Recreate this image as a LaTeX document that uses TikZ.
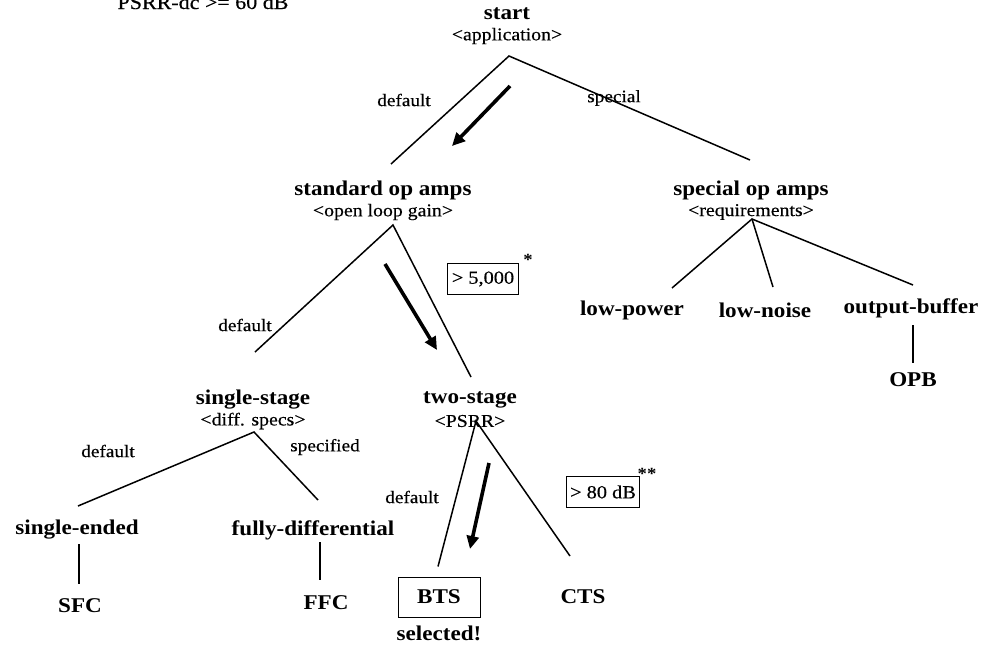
\documentclass[tikz,border=0pt]{standalone}
\usepackage{fontspec}
\setmainfont{Liberation Serif}[FakeStretch=1.1]
\newfontfamily\subfont{Liberation Serif}[FakeStretch=1.1, FakeBold=0.4]
\usetikzlibrary{arrows.meta}
\tikzset{
  title/.style={font=\bfseries\fontsize{21}{23}\selectfont, inner sep=0pt},
  sub/.style={font=\subfont\fontsize{18}{20}\selectfont, inner sep=0pt},
  lbl/.style={font=\subfont\fontsize{17.5}{19}\selectfont, inner sep=0pt},
  valbox/.style={draw, line width=1pt, font=\subfont\fontsize{18.5}{20}\selectfont,
    minimum height=31pt, inner xsep=4pt},
  stars/.style={font=\bfseries\fontsize{17}{17}\selectfont, inner sep=0pt},
  branch/.style={line width=1.5pt},
  path/.style={line width=3.6pt, -{Triangle[length=13pt,width=12pt]}},
}
\begin{document}
\begin{tikzpicture}[x=1pt,y=-1pt]
\useasboundingbox (0,0) rectangle (988,651);

% design constraint
\node[sub, anchor=base, font=\subfont\fontsize{20}{22}\selectfont] (psrr) at (203,9) {PSRR-dc >= 60 dB};

% root
\node[title] (start) at (507,14) {start};
\node[sub] (startq) at (507,36) {<application>};
\coordinate (start-apex) at (509,56);

% level 1
\node[title] (std) at (383,190) {standard op amps};
\node[sub] (stdq) at (383,212) {<open loop gain>};
\coordinate (std-top) at (391,164);
\coordinate (std-apex) at (393,225);

\node[title] (spec) at (751,190) {special op amps};
\node[sub] (specq) at (751,212) {<requirements>};
\coordinate (spec-top) at (750,160);
\coordinate (spec-apex) at (752,219);

\node[lbl] (l-def1) at (404,100) {default};
\node[lbl] (l-spc) at (614,98) {special};

% level 2 (standard)
\node[title] (single) at (253,400) {single-stage};
\node[sub] (singleq) at (253,421) {<diff. specs>};
\coordinate (single-top) at (255,352);
\coordinate (single-apex) at (254,432);

\node[title] (two) at (470,400) {two-stage};
\node[sub] (twoq) at (470,421) {<PSRR>};
\coordinate (two-top) at (471,377);
\coordinate (two-apex) at (476,421);

\node[lbl] (l-def2) at (245,325) {default};
\node[valbox] (gain) at (483,279) {> 5,000};
\node[stars] (gain-star) at (528,260) {*};

% level 2 (special)
\node[title] (lowp) at (632,310) {low-power};
\node[title] (lown) at (765,310) {low-noise};
\node[title] (outb) at (911,308) {output-buffer};
\coordinate (lowp-top) at (672,288);
\coordinate (lown-top) at (773,287);
\coordinate (outb-top) at (913,285);
\coordinate (outb-bot) at (913,325);
\node[title] (opb) at (913,380) {OPB};
\coordinate (opb-top) at (913,363);

% level 3 (single-stage)
\node[lbl] (l-def3) at (108,451) {default};
\node[lbl] (l-spf) at (325,447) {specified};
\node[title] (se) at (77,530) {single-ended};
\node[title] (fd) at (313,530) {fully-differential};
\coordinate (se-top) at (78,506);
\coordinate (fd-top) at (318,500);
\coordinate (se-bot) at (79,544);
\coordinate (fd-bot) at (320,542);
\node[title] (sfc) at (80,606) {SFC};
\node[title] (ffc) at (326,603) {FFC};
\coordinate (sfc-top) at (79,584);
\coordinate (ffc-top) at (320,580);

% level 3 (two-stage)
\node[lbl] (l-def4) at (412,497) {default};
\node[valbox] (psr) at (603,492) {> 80 dB};
\node[stars] (psr-star) at (647,474) {**};
\node[title, draw, line width=1pt, minimum width=82pt, minimum height=40pt] (bts) at (439,597) {BTS};
\node[title] (sel) at (439,633) {selected!};
\node[title] (cts) at (583,597) {CTS};
\coordinate (cts-top) at (570,556);

% tree branches
\draw[branch] (std-top) -- (start-apex) -- (spec-top);
\draw[branch] (single-top) -- (std-apex) -- (two-top);
\draw[branch] (lowp-top) -- (spec-apex) -- (outb-top);
\draw[branch] (spec-apex) -- (lown-top);
\draw[branch] (se-top) -- (single-apex) -- (fd-top);
\draw[branch] (bts.north) ++(-1,-10) coordinate (bts-top) -- (two-apex) -- (cts-top);
\draw[branch] (se-bot) -- (sfc-top);
\draw[branch] (fd-bot) -- (ffc-top);
\draw[branch] (outb-bot) -- (opb-top);

% selected design path
\coordinate (p1a) at (510,86);
\coordinate (p1b) at (452,146);
\coordinate (p2a) at (385,264);
\coordinate (p2b) at (437,350);
\coordinate (p3a) at (489,463);
\coordinate (p3b) at (470,549);
\draw[path] (p1a) -- (p1b);
\draw[path] (p2a) -- (p2b);
\draw[path] (p3a) -- (p3b);
\end{tikzpicture}
\end{document}
